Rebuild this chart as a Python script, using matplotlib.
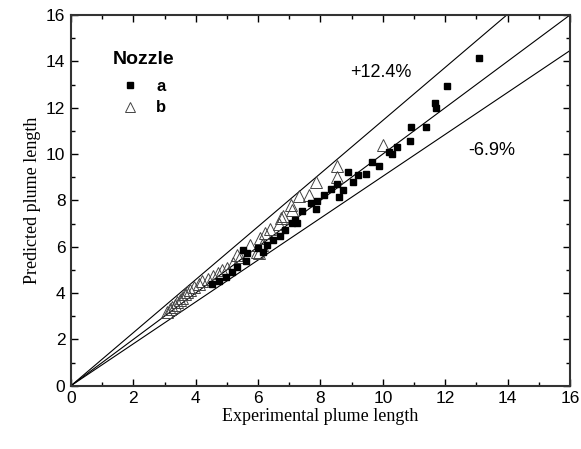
import matplotlib
matplotlib.use("Agg")
import matplotlib.pyplot as plt
from matplotlib.lines import Line2D
from matplotlib.ticker import MultipleLocator
import numpy as np

# Nozzle a (filled squares)
a_exp = [4.51, 4.75, 4.96, 5.15, 5.31, 5.52, 5.60, 5.63, 6.00, 6.17, 6.27, 6.47,
         6.70, 6.86, 7.08, 7.18, 7.24, 7.40, 7.68, 7.86, 7.90, 8.12, 8.33, 8.52,
         8.58, 8.73, 8.87, 9.03, 9.19, 9.45, 9.64, 9.89, 10.21, 10.30, 10.45,
         10.87, 10.89, 11.37, 11.68, 11.72, 12.05, 13.08]
a_pred = [4.39, 4.53, 4.70, 4.90, 5.14, 5.86, 5.39, 5.71, 5.93, 5.78, 6.07, 6.29,
          6.46, 6.72, 7.01, 7.15, 7.02, 7.53, 7.87, 7.63, 7.97, 8.22, 8.50, 8.71,
          8.13, 8.43, 9.21, 8.78, 9.11, 9.12, 9.65, 9.50, 10.09, 9.99, 10.32,
          10.55, 11.15, 11.18, 12.21, 11.97, 12.92, 14.14]

# Nozzle b (open triangles)
b_exp = [3.07, 3.17, 3.25, 3.32, 3.40, 3.48, 3.55, 3.65, 3.72, 3.80, 3.95, 4.10,
         4.20, 4.40, 4.55, 4.70, 4.85, 5.00, 5.20, 5.31, 5.42, 5.74, 5.95, 6.04,
         6.06, 6.11, 6.22, 6.38, 6.66, 6.75, 6.81, 7.05, 7.08, 7.30, 7.63, 7.86,
         8.54, 8.54, 10.01]
b_pred = [3.19, 3.30, 3.40, 3.50, 3.60, 3.72, 3.80, 3.95, 4.05, 4.15, 4.25, 4.40,
          4.50, 4.62, 4.75, 4.88, 4.98, 5.10, 5.28, 5.64, 5.57, 6.07, 5.75, 5.71,
          6.36, 6.07, 6.58, 6.75, 6.99, 7.22, 7.34, 7.79, 7.58, 8.20, 8.23, 8.78,
          9.00, 9.48, 10.39]

# bounding lines (slopes as drawn)
slopes = [1.145, 1.0, 0.904]

plt.rcParams["font.family"] = ["Liberation Sans", "DejaVu Sans"]

fig = plt.figure(figsize=(5.81, 4.49), dpi=100)
ax = fig.add_axes([0.1222, 0.141, 0.8588, 0.8256])

xs = np.array([0, 16])
for s in slopes:
    ax.plot(xs, s * xs, color="black", lw=0.8, zorder=1)

ax.plot(a_exp, a_pred, ls="", marker="s", ms=5, color="black", zorder=3)
ax.plot(b_exp, b_pred, ls="", marker="^", ms=8, mfc="none", mec="#444444",
        mew=0.7, zorder=2)

ax.text(9.95, 13.5, "+12.4%", fontsize=13, ha="center", va="center")
ax.text(13.5, 10.17, "-6.9%", fontsize=13, ha="center", va="center")

# legend: separate bold heading, then entries
ax.text(0.084, 0.879, "Nozzle", transform=ax.transAxes, fontsize=14,
        fontweight="bold", ha="left", va="center")
handles = [Line2D([0], [0], ls="", marker="s", ms=5, color="black", label="a"),
           Line2D([0], [0], ls="", marker="^", ms=6.5, mfc="none", mec="#444444",
                  mew=0.7, label="b")]
leg = ax.legend(handles=handles, loc="upper left", bbox_to_anchor=(0.084, 0.846),
                frameon=False, fontsize=12, handletextpad=1.0, labelspacing=0.4,
                borderaxespad=0.0, handlelength=1.2)
for t in leg.get_texts():
    t.set_fontweight("bold")

ax.set_xlim(0, 16)
ax.set_ylim(0, 16)
ax.xaxis.set_major_locator(MultipleLocator(2))
ax.yaxis.set_major_locator(MultipleLocator(2))
ax.xaxis.set_minor_locator(MultipleLocator(1))
ax.yaxis.set_minor_locator(MultipleLocator(1))
ax.tick_params(which="both", direction="in", top=True, right=True,
               labeltop=False, labelright=False, width=1.0)
ax.tick_params(which="major", length=5, labelsize=12.5, pad=4)
ax.tick_params(which="minor", length=3)
for sp in ax.spines.values():
    sp.set_linewidth(1.5)
    sp.set_color("#333333")

ax.set_xlabel("Experimental plume length", fontsize=13,
              family=["Liberation Serif", "DejaVu Serif"], labelpad=1)
ax.set_ylabel("Predicted plume length", fontsize=13,
              family=["Liberation Serif", "DejaVu Serif"], labelpad=4)

fig.savefig("out.png", dpi=100)
